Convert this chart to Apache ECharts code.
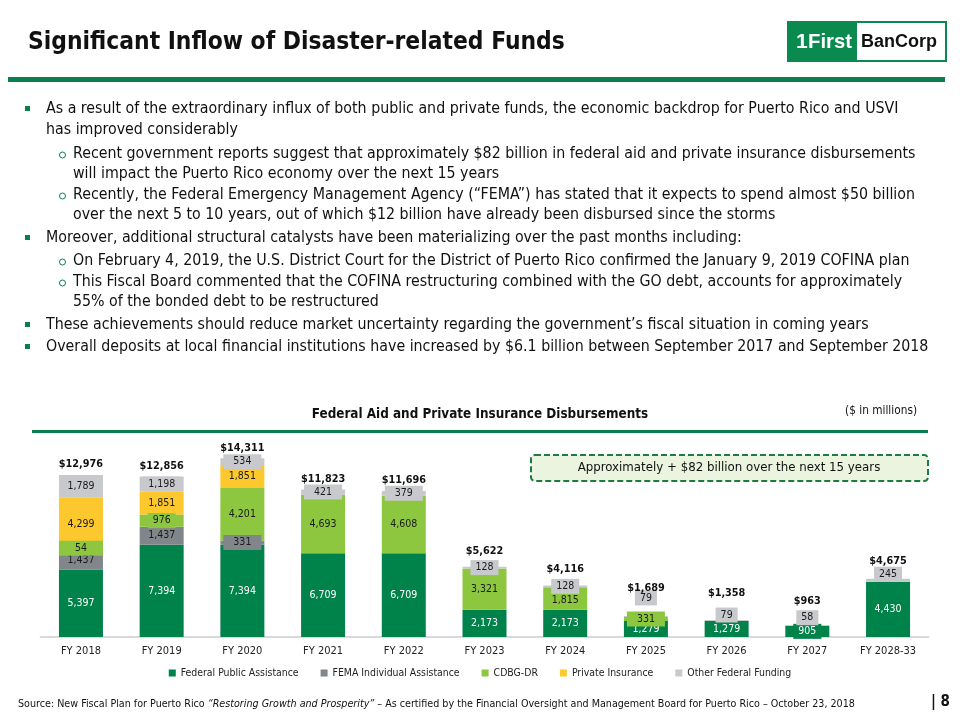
<!DOCTYPE html>
<html><head><meta charset="utf-8">
<script src="https://cdn.jsdelivr.net/npm/echarts@6/dist/echarts.min.js"></script>
<style>html,body{margin:0;padding:0;background:#fff}#c{width:960px;height:720px}</style>
</head><body><div id="c"></div>
<script>
// ---------- DATA ----------
const categories = ['FY 2018','FY 2019','FY 2020','FY 2021','FY 2022','FY 2023','FY 2024','FY 2025','FY 2026','FY 2027','FY 2028-33'];
const seriesNames = ['Federal Public Assistance','FEMA Individual Assistance','CDBG-DR','Private Insurance','Other Federal Funding'];
const federalPublic    = [5397, 7394, 7394, 6709, 6709, 2173, 2173, 1279, 1279, 905, 4430];
const femaIndividual   = [1437, 1437,  331,    0,    0,    0,    0,    0,    0,   0,    0];
const cdbgDr           = [  54,  976, 4201, 4693, 4608, 3321, 1815,  331,    0,   0,    0];
const privateInsurance = [4299, 1851, 1851,    0,    0,    0,    0,    0,    0,   0,    0];
const otherFederal     = [1789, 1198,  534,  421,  379,  128,  128,   79,   79,  58,  245];
const seriesValues = [federalPublic, femaIndividual, cdbgDr, privateInsurance, otherFederal];

const titleText = 'Significant Inflow of Disaster-related Funds';
const chartTitle = 'Federal Aid and Private Insurance Disbursements';
const unitsText = '($ in millions)';
const calloutText = 'Approximately + $82 billion over the next 15 years';
const bodyLines = [
  ['sq', 'As a result of the extraordinary influx of both public and private funds, the economic backdrop for Puerto Rico and USVI'],
  ['c1', 'has improved considerably'],
  ['o',  'Recent government reports suggest that approximately $82 billion in federal aid and private insurance disbursements'],
  ['c2', 'will impact the Puerto Rico economy over the next 15 years'],
  ['o',  'Recently, the Federal Emergency Management Agency (\u201cFEMA\u201d) has stated that it expects to spend almost $50 billion'],
  ['c2', 'over the next 5 to 10 years, out of which $12 billion have already been disbursed since the storms'],
  ['sq', 'Moreover, additional structural catalysts have been materializing over the past months including:'],
  ['o',  'On February 4, 2019, the U.S. District Court for the District of Puerto Rico confirmed the January 9, 2019 COFINA plan'],
  ['o',  'This Fiscal Board commented that the COFINA restructuring combined with the GO debt, accounts for approximately'],
  ['c2', '55% of the bonded debt to be restructured'],
  ['sq', 'These achievements should reduce market uncertainty regarding the government\u2019s fiscal situation in coming years'],
  ['sq', 'Overall deposits at local financial institutions have increased by $6.1 billion between September 2017 and September 2018']
];
const sourceA = 'Source: New Fiscal Plan for Puerto Rico ';
const sourceB = '\u201cRestoring Growth and Prosperity\u201d';
const sourceC = ' \u2013 As certified by the Financial Oversight and Management Board for Puerto Rico \u2013 October 23, 2018';

// ---------- STYLE ----------
const FONT = "'DejaVu Sans Condensed', 'DejaVu Sans', sans-serif";
const LOGOFONT = "'Liberation Sans', Arial, sans-serif";
const GREEN = '#0a7f4d';
const colors = ['#00824b', '#80868a', '#8dc63f', '#fdc82e', '#c8c9cc'];
const labelColors = ['#ffffff', '#1a1a1a', '#1a1a1a', '#1a1a1a', '#1a1a1a'];
const lineY = [109, 130, 154, 174, 195, 215, 238, 261, 282, 302, 325, 347];
const labelOffset = {'4-7': -18.5, '4-8': -5.5, '4-9': -7.6, '4-10': -6, '2-0': -3, '2-6': 1.5};
const labelPad = {'4-2': [2, 10], '4-3': [2, 10], '4-4': [2, 10], '1-2': [2, 10], '2-7': [2, 10], '2-0': [2, 16]};
const totalDist = [5, 5, 5, 5, 5, 10, 11, 22, 21, 18, 12];

const ctx = document.createElement('canvas').getContext('2d');
function fit(text, family, weight, style, target) {
  ctx.font = (style || 'normal') + ' ' + weight + ' 100px ' + family;
  return 100 * target / ctx.measureText(text).width;
}
const fmt = v => v.toLocaleString('en-US');
const totals = categories.map((c, i) => seriesValues.reduce((s, arr) => s + arr[i], 0));

const bodySize = fit(bodyLines[11][1], FONT, 'normal', 'normal', 883);
const titleSize = fit(titleText, FONT, 'bold', 'normal', 537);
const chartTitleSize = fit(chartTitle, FONT, 'bold', 'normal', 337);
const unitsSize = fit(unitsText, FONT, 'normal', 'normal', 72);
const calloutSize = fit(calloutText, FONT, 'normal', 'normal', 303);
const sourceSize = fit(sourceA + sourceB + sourceC, FONT, 'normal', 'normal', 837);

const graphics = [];
graphics.push({type: 'text', style: {x: 28, y: 43, text: titleText, fontFamily: FONT, fontWeight: 'bold', fontSize: titleSize, fill: '#111', textVerticalAlign: 'middle'}});
// logo
graphics.push({type: 'rect', shape: {x: 787, y: 21, width: 160, height: 41}, style: {fill: '#0b8a4f'}});
graphics.push({type: 'rect', shape: {x: 857, y: 23, width: 88, height: 37}, style: {fill: '#ffffff'}});
graphics.push({type: 'text', style: {x: 796, y: 42, text: '1', fontFamily: LOGOFONT, fontWeight: 'bold', fontSize: 21, fill: '#fff', textVerticalAlign: 'middle'}});
graphics.push({type: 'text', style: {x: 808, y: 42, text: 'First', fontFamily: LOGOFONT, fontWeight: 'bold', fontSize: fit('First', LOGOFONT, 'bold', 'normal', 44), fill: '#fff', textVerticalAlign: 'middle'}});
graphics.push({type: 'text', style: {x: 899, y: 42, text: 'BanCorp', fontFamily: LOGOFONT, fontWeight: 'bold', fontSize: fit('BanCorp', LOGOFONT, 'bold', 'normal', 76), fill: '#111', textAlign: 'center', textVerticalAlign: 'middle'}});
// header rule
graphics.push({type: 'rect', shape: {x: 8, y: 77, width: 937, height: 5}, style: {fill: GREEN}});
// body
bodyLines.forEach((l, i) => {
  const y = lineY[i];
  const kind = l[0];
  const x = (kind === 'sq' || kind === 'c1') ? 46 : 73;
  if (kind === 'sq') graphics.push({type: 'rect', shape: {x: 25, y: y - 3, width: 5, height: 5}, style: {fill: GREEN}});
  if (kind === 'o') graphics.push({type: 'circle', shape: {cx: 62.5, cy: y + 1, r: 3}, style: {fill: 'none', stroke: GREEN, lineWidth: 1}});
  graphics.push({type: 'text', style: {x: x, y: y, text: l[1], fontFamily: FONT, fontSize: bodySize, fill: '#111', textVerticalAlign: 'middle'}});
});
// chart title and rule
graphics.push({type: 'text', style: {x: 480, y: 415, text: chartTitle, fontFamily: FONT, fontWeight: 'bold', fontSize: chartTitleSize, fill: '#111', textAlign: 'center', textVerticalAlign: 'middle'}});
graphics.push({type: 'text', style: {x: 917, y: 411, text: unitsText, fontFamily: FONT, fontSize: unitsSize, fill: '#111', textAlign: 'right', textVerticalAlign: 'middle'}});
graphics.push({type: 'rect', shape: {x: 32, y: 430, width: 896, height: 3}, style: {fill: GREEN}});
// callout
graphics.push({type: 'rect', shape: {x: 531, y: 455, width: 397, height: 26, r: 4}, style: {fill: '#eaf4de', stroke: '#1d7a45', lineWidth: 2, lineDash: [6, 3]}});
graphics.push({type: 'text', style: {x: 729, y: 468, text: calloutText, fontFamily: FONT, fontSize: calloutSize, fill: '#111', textAlign: 'center', textVerticalAlign: 'middle'}});
// source
graphics.push({type: 'text', style: {x: 18, y: 704, text: '{a|' + sourceA + '}{b|' + sourceB + '}{a|' + sourceC + '}', textVerticalAlign: 'middle',
  rich: {a: {fontFamily: FONT, fontSize: sourceSize, fill: '#111', color: '#111'}, b: {fontFamily: FONT, fontSize: sourceSize, fontStyle: 'italic', fill: '#111', color: '#111'}}}});
graphics.push({type: 'text', style: {x: 950, y: 702, text: '| 8', fontFamily: FONT, fontWeight: 'bold', fontSize: 15, fill: '#111', textAlign: 'right', textVerticalAlign: 'middle'}});

// ---------- SERIES ----------
const series = seriesValues.map((arr, s) => ({
  name: seriesNames[s], type: 'bar', stack: 'total', barWidth: 44,
  itemStyle: {color: colors[s]},
  label: {show: true, position: 'inside', color: labelColors[s], fontFamily: FONT, fontSize: 10.5,
    backgroundColor: colors[s], padding: [2, 5], formatter: p => fmt(p.value)},
  data: arr.map((v, i) => {
    if (!v) return '-';
    const key = s + '-' + i;
    const item = {value: v};
    const lab = {};
    if (labelOffset[key] !== undefined) lab.offset = [0, labelOffset[key]];
    if (labelPad[key]) lab.padding = labelPad[key];
    if (Object.keys(lab).length) item.label = lab;
    return item;
  })
}));
series.push({
  name: 'Total', type: 'bar', stack: 'total', barWidth: 44, silent: true,
  itemStyle: {color: 'transparent'},
  label: {show: true, position: 'top', color: '#111', fontFamily: FONT, fontWeight: 'bold', fontSize: 10.8,
    formatter: p => '$' + fmt(totals[p.dataIndex])},
  data: categories.map((c, i) => ({value: 0, label: {distance: totalDist[i]}}))
});

const chart = echarts.init(document.getElementById('c'), null, {renderer: 'canvas'});
chart.setOption({
  animation: false,
  backgroundColor: '#ffffff',
  textStyle: {fontFamily: FONT},
  grid: {left: 40.6, right: 31.6, top: 437.25, bottom: 83, containLabel: false},
  xAxis: {type: 'category', data: categories,
    axisLine: {show: true, lineStyle: {color: '#d9d9d9', width: 2}},
    axisTick: {show: false},
    axisLabel: {color: '#222', fontSize: 11, fontFamily: FONT, margin: 9, interval: 0}},
  yAxis: {type: 'value', min: 0, max: 16000, show: false, splitLine: {show: false}},
  legend: {data: seriesNames, top: 663, left: 'center', icon: 'rect', itemWidth: 7, itemHeight: 7, itemGap: 22,
    textStyle: {color: '#222', fontSize: 10.4, fontFamily: FONT}},
  series: series,
  graphic: {elements: graphics}
});
</script></body></html>
